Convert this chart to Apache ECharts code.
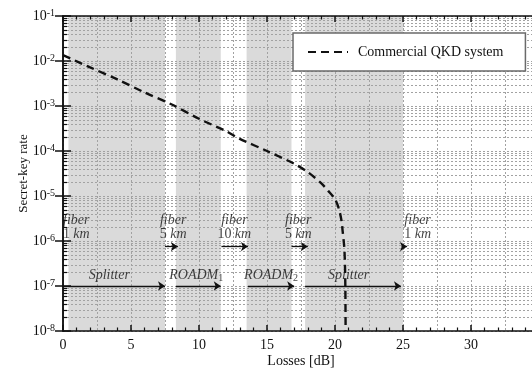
<!DOCTYPE html>
<html>
<head>
<meta charset="utf-8">
<script src="https://cdn.jsdelivr.net/npm/echarts@6/dist/echarts.min.js"></script>
<style>
  html, body { margin: 0; padding: 0; background: #fff; }
  #chart { width: 532px; height: 368px; }
</style>
</head>
<body>
<div id="chart"></div>
<script>
// curve
const lossDb  = [0, 2, 4, 6, 8, 10, 12, 13, 15, 17, 18, 19, 19.5, 20, 20.3, 20.5, 20.55, 20.67, 20.72, 20.76, 20.78];
const keyRate = [1.35e-2, 7.2e-3, 3.9e-3, 2.0e-3, 1.08e-3, 5.2e-4, 2.75e-4, 1.86e-4, 1.0e-4, 5.2e-5, 3.4e-5, 1.9e-5, 1.3e-5, 8.5e-6, 5e-6, 2.6e-6, 1.8e-6, 8e-7, 4e-7, 1e-7, 1e-8];

// shaded component spans [dB]
const shadedSpans = [[0.4, 7.5], [8.3, 11.6], [13.5, 16.8], [17.8, 25]];

// annotation arrows [from, to] in dB
const componentArrows = [[0, 7.5], [8.3, 11.6], [13.6, 17.0], [17.8, 24.85]];
const componentArrowRate = 1e-7;
const fiberArrows = [[7.5, 8.45], [11.65, 13.6], [16.8, 18.0], [24.9, 25.3]];
const fiberArrowRate = 7.5e-7;

// annotation texts
const componentNames = ['Splitter', 'ROADM1', 'ROADM2', 'Splitter'];
const componentLabelX = [3.4, 9.8, 15.3, 21.0];
const componentLabelRate = 1.75e-7;
const fiberKm = ['1', '5', '10', '5', '1'];
const fiberLabelX = [0, 8.1, 12.6, 17.3, 25.1];
const fiberLabelRate = 2.0e-6;

// decades of the log axis, minor ticks at 2..9 of each
const decades = [-8, -7, -6, -5, -4, -3, -2];
const minorSteps = [2, 3, 4, 5, 6, 7, 8, 9];

const xMin = 0, xMax = 35;
const serif = 'Liberation Serif';
const gridDot = { color: '#a2a2a2', width: 1, type: [2, 2] };

let chart = echarts.init(document.getElementById('chart'));

let curve = lossDb.map((x, i) => [x, keyRate[i]]);

let minorRates = [];
decades.forEach(e => minorSteps.forEach(k => minorRates.push([xMin, k * Math.pow(10, e)])));

let arrowLines = componentArrows.map(a => [{coord: [a[0], componentArrowRate]}, {coord: [a[1], componentArrowRate]}])
  .concat(fiberArrows.map(a => [{coord: [a[0], fiberArrowRate]}, {coord: [a[1], fiberArrowRate]}]));

let textItems = [];
componentNames.forEach((n, i) => {
  textItems.push({
    value: [componentLabelX[i], componentLabelRate],
    label: {formatter: '{i|' + n.replace(/\d$/, '') + '}' + (/\d$/.test(n) ? '{sub|' + n.slice(-1) + '}' : '')}
  });
});
fiberKm.forEach((k, i) => {
  let left = (i === 0 || i === fiberKm.length - 1);
  textItems.push({
    value: [fiberLabelX[i], fiberLabelRate],
    label: {
      position: left ? 'right' : 'inside',
      distance: 0,
      align: left ? 'left' : 'center',
      formatter: '{i|fiber}\n{n|' + k + '} {i|km}'
    }
  });
});

const richText = {
  i: {fontFamily: serif, fontStyle: 'italic', fontSize: 14, color: '#111', lineHeight: 14},
  n: {fontFamily: serif, fontSize: 14, color: '#111', lineHeight: 14},
  sub: {fontFamily: serif, fontSize: 10, color: '#111', padding: [7, 0, 0, 0]}
};

// minor log gridline + inner tick on the left axis
function renderMinor(params, api) {
  let v = api.value(1);
  let a = api.coord([xMin, v]);
  let b = api.coord([xMax, v]);
  let y = Math.round(a[1]) + 0.5;
  return {
    type: 'group',
    children: [
      {type: 'line', shape: {x1: a[0], y1: y, x2: b[0], y2: y},
        style: {stroke: gridDot.color, lineWidth: 1, lineDash: gridDot.type}},
      {type: 'line', shape: {x1: a[0], y1: y, x2: a[0] + 4, y2: y},
        style: {stroke: '#111', lineWidth: 1.2}}
    ]
  };
}

chart.setOption({
  animation: false,
  backgroundColor: '#fff',
  grid: {left: 63, top: 16, width: 476, height: 315, outerBoundsMode: 'none', containLabel: false},
  legend: {
    left: 293, top: 33, z: 10,
    data: ['Commercial QKD system'],
    backgroundColor: '#fff',
    borderColor: '#6a6a6a',
    borderWidth: 1.5,
    borderRadius: 0,
    padding: [12, 22, 12, 14],
    itemWidth: 40,
    itemHeight: 14,
    itemStyle: {opacity: 0},
    textStyle: {fontFamily: serif, fontSize: 14, color: '#111', padding: [0, 0, 0, 5]}
  },
  xAxis: [
    {
      type: 'value', position: 'bottom', min: xMin, max: xMax, interval: 5, z: 3,
      name: 'Losses [dB]', nameLocation: 'middle', nameGap: 23, nameMoveOverlap: false,
      nameTextStyle: {fontFamily: serif, fontSize: 14, color: '#111'},
      axisLine: {lineStyle: {color: '#111', width: 1.5}},
      axisTick: {inside: true, length: 6, lineStyle: {color: '#111', width: 1.5}},
      minorTick: {show: true, splitNumber: 5, length: 3.5, lineStyle: {color: '#111', width: 1.2}},
      axisLabel: {fontFamily: serif, fontSize: 14, color: '#111', margin: 7},
      splitLine: {show: false}
    },
    {
      type: 'value', position: 'top', min: xMin, max: xMax, interval: 5, z: 3,
      axisLine: {lineStyle: {color: '#111', width: 1.5}},
      axisTick: {inside: true, length: 6, lineStyle: {color: '#111', width: 1.5}},
      minorTick: {show: true, splitNumber: 5, length: 3.5, lineStyle: {color: '#111', width: 1.2}},
      axisLabel: {show: false},
      splitLine: {show: false}
    },
    {
      type: 'value', position: 'bottom', min: xMin, max: xMax, interval: 2.5, z: 2,
      axisLine: {show: false}, axisTick: {show: false}, axisLabel: {show: false},
      splitLine: {show: true, lineStyle: gridDot}
    }
  ],
  yAxis: [
    {
      type: 'log', logBase: 10, position: 'left', min: 1e-8, max: 1e-1, z: 3,
      name: 'Secret-key rate', nameLocation: 'middle', nameGap: 33, nameMoveOverlap: false,
      nameTextStyle: {fontFamily: serif, fontSize: 13, color: '#111'},
      axisLine: {show: true, lineStyle: {color: '#111', width: 1.5}},
      axisTick: {inside: true, length: 8, lineStyle: {color: '#111', width: 1.5}},
      minorTick: {show: false},
      axisLabel: {
        margin: 8,
        formatter: v => '{b|10}{s|' + Math.round(Math.log10(v)) + '}',
        rich: {
          b: {fontFamily: serif, fontSize: 14, color: '#111'},
          s: {fontFamily: serif, fontSize: 10, color: '#111', padding: [0, 0, 6, 0]}
        }
      },
      splitLine: {show: true, lineStyle: gridDot},
      minorSplitLine: {show: false}
    },
    {
      type: 'log', logBase: 10, position: 'right', min: 1e-8, max: 1e-1, z: 3,
      axisLine: {show: true, lineStyle: {color: '#111', width: 1.5}},
      axisTick: {inside: true, length: 8, lineStyle: {color: '#111', width: 1.5}},
      minorTick: {show: false},
      axisLabel: {show: false},
      splitLine: {show: false}
    }
  ],
  series: [
    {
      name: 'bands', type: 'line', data: [], z: -1, silent: true,
      markArea: {
        silent: true,
        itemStyle: {color: '#dadada'},
        data: shadedSpans.map(s => [{xAxis: s[0]}, {xAxis: s[1]}])
      }
    },
    {
      name: 'minorGrid', type: 'custom', data: minorRates, z: 3, silent: true,
      encode: {x: 0, y: 1},
      renderItem: renderMinor
    },
    {
      name: 'Commercial QKD system', type: 'line', data: curve,
      showSymbol: false, symbol: 'none', smooth: 0.3, z: 5,
      color: '#111',
      itemStyle: {color: '#111'},
      lineStyle: {color: '#111', width: 2.4, type: [8, 5]}
    },
    {
      name: 'arrows', type: 'line', data: [], z: 4, silent: true,
      markLine: {
        silent: true,
        symbol: ['none', 'arrow'],
        symbolSize: 7,
        label: {show: false},
        lineStyle: {color: '#111', width: 1.3, type: 'solid'},
        data: arrowLines
      }
    },
    {
      name: 'texts', type: 'scatter', data: textItems, symbolSize: 0, z: 6, silent: true,
      label: {show: true, position: 'inside', color: '#111', rich: richText}
    }
  ]
});
</script>
</body>
</html>
